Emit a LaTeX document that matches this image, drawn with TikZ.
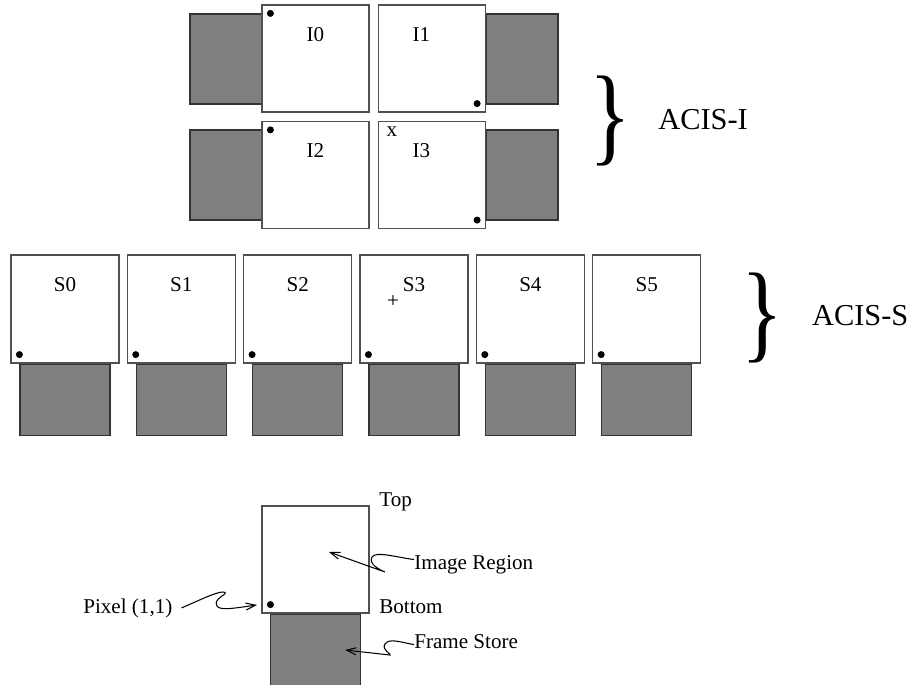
\documentclass[tikz,border=0pt]{standalone}
\usepackage{fontspec}
\setmainfont{Liberation Serif}
\usetikzlibrary{arrows.meta,positioning,calc}
\definecolor{storegray}{RGB}{128,128,128}
\definecolor{edgegray}{RGB}{80,80,80}

\begin{document}
\begin{tikzpicture}[
    x=0.02cm, y=-0.02cm,
    chip/.style={draw=edgegray, line width=0.7pt, fill=white, minimum width=2.14cm, minimum height=2.14cm, inner sep=0pt},
    store/.style={draw=black!80, line width=0.7pt, fill=storegray, minimum width=1.8cm, minimum height=1.43cm, inner sep=0pt},
    sidestore/.style={draw=black!80, line width=0.7pt, fill=storegray, minimum width=1.44cm, minimum height=1.8cm, inner sep=0pt},
    pixdot/.style={circle, fill=black, inner sep=0pt, minimum size=4pt},
    chiplbl/.style={inner sep=0pt, font=\fontsize{12}{14}\selectfont, anchor=base},
    lbl/.style={inner sep=0pt, font=\fontsize{12}{14}\selectfont, anchor=base west},
    biglbl/.style={inner sep=0pt, font=\fontsize{17.3}{20}\selectfont, anchor=base west},
    bracesym/.style={inner sep=0pt, font=\fontsize{62}{62}\selectfont},
    wavy/.style={line width=0.6pt, -{Straight Barb[length=5.5pt,width=4pt]}},
    >=Latex
]
  \useasboundingbox (0,0) rectangle (912,685);

  % ACIS-I
  \node[sidestore] (fsi0) at (226,59) {};
  \node[sidestore] (fsi1) at (522,59) {};
  \node[sidestore] (fsi2) at (226,175) {};
  \node[sidestore] (fsi3) at (522,175) {};
  \node[chip] (i0) at (315.5,58.5) {};
  \node[chip] (i1) at (432,58.5) {};
  \node[chip] (i2) at (315.5,175) {};
  \node[chip] (i3) at (432,175) {};
  \node[chiplbl] (li0) at ($(i0.north)+(0,36.7)$) {I0};
  \node[chiplbl] (li1) at ($(i1.north)+(-10.5,36.7)$) {I1};
  \node[chiplbl] (li2) at ($(i2.north)+(0,36.7)$) {I2};
  \node[chiplbl] (li3) at ($(i3.north)+(-10.5,36.7)$) {I3};
  \node[pixdot] at ($(i0.north west)+(9,9)$) {};
  \node[pixdot] at ($(i1.south east)+(-9,-9)$) {};
  \node[pixdot] at ($(i2.north west)+(9,9)$) {};
  \node[pixdot] at ($(i3.south east)+(-9,-9)$) {};
  \node[chiplbl] (aimx) at (392,137) {x};
  \node[bracesym] (bri) at (610.5,121) {\scalebox{0.8}[1]{\}}};
  \node[biglbl] (acisi) at (658,129.3) {ACIS-I};

  % ACIS-S
  \foreach \n in {0,...,5} {
    \pgfmathsetmacro\cx{65+116.35*\n}
    \node[chip, minimum width=2.16cm, minimum height=2.16cm] (s\n) at (\cx,309) {};
    \node[store, below=0pt of s\n] (fss\n) {};
    \node[chiplbl] (ls\n) at ($(s\n.north)+(0,36.7)$) {S\n};
    \node[pixdot] at ($(s\n.south west)+(9,-9)$) {};
  }
  \node[chiplbl] (aimp) at (393,308) {+};
  \node[bracesym] (brs) at (762.5,317.5) {\scalebox{0.8}[1]{\}}};
  \node[biglbl] (aciss) at (811.7,326) {ACIS-S};

  % legend
  \node[chip] (leg) at (315.5,559.5) {};
  \node[store, below=0pt of leg, minimum height=1.44cm] (legfs) {};
  \node[pixdot] at ($(leg.south west)+(9,-9)$) {};
  \node[lbl] (toplbl) at (379,506) {Top};
  \node[lbl] (botlbl) at (379,613) {Bottom};
  \node[lbl] (imglbl) at (414,569) {Image Region};
  \node[lbl] (fslbl) at (414,648) {Frame Store};
  \node[lbl] (pixlbl) at (83,613) {Pixel (1,1)};

  \coordinate (imgtip) at (329,552);
  \coordinate (fstip) at (345,650);
  \coordinate (pixtip) at (257,605);
  \draw[wavy] ([yshift=2.7pt]imglbl.west) .. controls (395,557) and (376,551) .. (372,557)
    .. controls (368,564) and (380,570) .. (385,572) -- (imgtip);
  \draw[wavy] ([yshift=-2pt]fslbl.west) .. controls (400,642) and (389,638) .. (385,644)
    .. controls (381,650) and (392,654) .. (390,655) -- (fstip);
  \draw[wavy] ([xshift=5pt]pixlbl.east) .. controls (200,600) and (216,592) .. (223,592)
    .. controls (232,593) and (212,598) .. (217,606) .. controls (220,611) and (235,608) .. (pixtip);
\end{tikzpicture}
\end{document}
